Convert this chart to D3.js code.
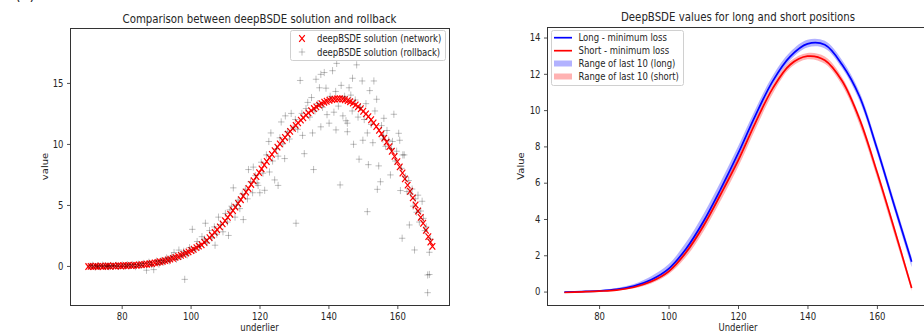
<!DOCTYPE html>
<html><head><meta charset="utf-8">
<script src="https://cdn.jsdelivr.net/npm/d3@7"></script>
<style>
body{margin:0;background:#fff;overflow:hidden}
text{font-family:"DejaVu Sans",sans-serif;fill:#262626}
</style>
</head><body>
<svg id="c" width="924" height="332"></svg>
<script>
// ---------- DATA ----------
const netX = [70.3,71.0,71.8,72.5,73.1,73.9,74.6,75.4,76.0,76.7,77.5,78.2,79.0,79.8,80.5,81.3,82.0,82.8,83.5,84.3,85.0,85.8,86.6,87.3,88.1,88.8,89.6,90.4,91.1,91.9,92.6,93.4,94.1,94.9,95.6,96.4,97.2,97.9,98.7,99.4,100.2,100.9,101.7,102.4,103.2,104.0,104.7,105.5,106.2,107.0,107.7,108.5,109.3,110.0,110.8,111.5,112.3,113.0,113.8,114.6,115.3,116.1,116.8,117.6,118.3,119.1,119.9,120.6,121.4,122.1,122.9,123.6,124.4,125.2,125.9,126.7,127.4,128.2,128.9,129.7,130.5,131.2,132.0,132.7,133.5,134.2,135.0,135.8,136.5,137.3,138.0,138.8,139.5,140.3,141.1,141.8,142.6,143.3,144.1,144.8,145.6,146.3,147.1,147.9,148.6,149.4,150.1,150.9,151.6,152.4,153.1,153.9,154.7,155.4,156.2,156.9,157.7,158.4,159.2,160.0,160.7,161.5,162.2,163.0,163.7,164.5,165.3,166.0,166.8,167.5,168.3,169.0,169.6,170.2];
const netY = [-0.05,-0.03,-0.06,-0.02,-0.04,-0.01,-0.04,-0.02,0.0,-0.03,0.01,-0.01,0.02,0.0,0.03,0.02,0.05,0.03,0.06,0.05,0.09,0.1,0.13,0.14,0.18,0.2,0.25,0.28,0.34,0.38,0.44,0.49,0.56,0.62,0.7,0.77,0.87,0.95,1.06,1.15,1.27,1.37,1.5,1.62,1.74,1.93,2.1,2.32,2.52,2.75,2.97,3.2,3.45,3.7,3.98,4.24,4.54,4.82,5.12,5.43,5.72,6.05,6.35,6.68,6.98,7.32,7.65,7.95,8.27,8.56,8.87,9.14,9.44,9.74,10.0,10.28,10.53,10.8,11.03,11.28,11.52,11.73,11.95,12.14,12.36,12.54,12.73,12.9,13.04,13.18,13.3,13.42,13.5,13.58,13.63,13.67,13.7,13.7,13.67,13.62,13.55,13.46,13.35,13.2,13.05,12.88,12.68,12.46,12.24,11.98,11.72,11.43,11.12,10.82,10.48,10.15,9.78,9.4,8.98,8.55,8.12,7.62,7.14,6.62,6.12,5.58,5.0,4.5,3.98,3.5,2.92,2.4,1.95,1.6];

const rollbackPoints = [
[70.8,-0.02],[71.5,0.05],[72.3,-0.08],[73.0,0.02],[73.6,-0.05],[74.4,0.06],[75.1,-0.03],[75.8,0.0],[76.3,-0.06],[76.9,0.04],[77.6,-0.02],[78.4,0.05],[79.1,-0.04],[80.2,0.08],[81.0,-0.03],[81.7,0.1],[82.4,0.02],[83.2,0.12],[84.0,-0.05],[84.8,0.15],[85.6,0.05],[86.3,0.2],[87.2,-0.35],[87.9,0.3],[88.6,0.1],[89.3,-0.3],[90.1,0.4],[90.8,0.15],[91.5,0.45],[92.2,0.3],[93.0,0.65],[93.8,0.4],[94.5,0.8],[95.2,1.1],[95.9,0.55],[96.6,1.3],[97.3,0.8],[98.0,1.2],[98.3,-1.1],[99.0,0.9],[99.7,1.5],
[100.5,3.0],[101.2,1.3],[101.9,2.0],[102.6,1.6],[103.3,2.4],[104.0,2.2],[104.3,3.5],[104.8,1.9],[105.5,2.9],[106.2,2.3],[106.9,3.2],[107.1,1.7],[107.6,2.6],[108.1,4.0],[108.7,3.4],[109.4,2.8],[110.1,4.3],[110.7,3.6],[111.0,2.5],[111.4,4.6],[111.9,4.9],[112.4,6.4],[112.9,4.0],[113.3,5.0],[113.8,5.4],[114.3,4.7],[115.0,5.9],[115.3,3.8],[115.9,6.3],[116.5,5.5],[116.8,7.9],[117.4,6.9],[118.0,6.0],[118.2,8.1],[118.8,7.4],[119.3,6.8],[119.6,6.6],[120.1,6.0],[120.5,8.5],[121.0,7.6],[121.5,6.2],[122.0,9.1],[122.7,10.2],[122.9,7.7],[123.3,10.9],[123.8,8.6],[124.4,7.05],[124.9,9.6],[125.4,9.0],[125.4,6.6],[125.9,10.5],[126.3,11.8],[126.8,10.0],[127.3,8.8],[127.5,12.3],[128.1,11.0],[128.7,10.4],[129.2,12.5],[129.8,11.3],[130.4,12.0],[130.6,3.5],[131.1,11.2],[131.8,15.2],[132.3,12.5],[132.5,10.7],[133.0,9.2],[133.5,12.9],[134.0,13.4],[134.6,12.2],[135.1,13.8],[135.4,10.9],[135.7,7.9],[136.1,12.7],[136.4,15.3],[136.9,13.3],[137.4,14.6],[137.8,15.7],[137.8,11.4],[138.3,13.0],[138.8,15.85],[139.3,14.57],[139.6,12.4],[140.2,11.7],[140.5,13.9],[141.2,16.0],[141.6,12.6],[142.1,14.3],[142.2,11.15],[142.4,16.6],[142.9,13.1],[143.4,6.64],[143.7,14.8],[144.2,12.3],[144.7,13.9],[145.1,11.9],[145.5,11.0],[145.5,11.7],[146.0,14.6],[146.5,14.0],[146.9,12.7],[147.0,15.38],[147.3,9.97],[147.8,13.6],[148.2,16.48],[148.6,12.2],[148.9,8.75],[149.3,13.0],[149.8,15.16],[150.0,10.3],[150.4,12.0],[150.9,13.3],[151.3,10.9],[151.3,4.45],[151.6,8.3],[152.0,14.37],[152.4,11.6],[152.9,10.1],[153.2,15.16],[153.5,12.7],[154.0,13.66],[154.2,6.28],[154.6,8.2],[155.1,6.9],[155.4,11.5],[155.8,10.4],[156.0,10.7],[156.1,12.1],[156.6,9.8],[157.0,11.1],[157.5,10.3],[158.0,7.46],[158.3,9.6],[158.6,10.2],[159.0,12.43],[159.4,8.6],[159.8,9.4],[160.4,10.87],[160.7,10.3],[160.9,6.18],[161.2,8.0],[161.4,2.27],[161.6,9.1],[162.0,9.1],[162.4,7.3],[162.8,6.1],[163.3,7.0],[163.5,3.36],[163.9,5.9],[164.3,6.3],[164.6,4.9],[165.0,1.31],[165.2,5.5],[165.6,4.4],[166.0,5.8],[166.4,3.6],[166.8,4.5],[167.2,5.3],[167.6,3.9],[168.0,2.9],[168.4,3.2],[168.8,-2.19],[168.8,-0.74],[169.3,-0.7],[169.3,1.12],[169.6,2.2]
];

const gridX      = [70,75,80,85,90,95,100,105,110,115,120,125,130,135,140,145,150,155,160,165,170];
const longMin    = [-0.03,0.0,0.04,0.12,0.3,0.65,1.25,2.35,3.85,5.65,7.6,9.7,11.6,12.95,13.65,13.6,12.5,10.75,7.9,4.75,1.65];
const longLow    = [-0.05,-0.02,0.01,0.07,0.22,0.52,1.05,2.05,3.5,5.3,7.3,9.45,11.4,12.75,13.45,13.4,12.3,10.5,7.65,4.5,1.35];
const longHigh   = [-0.01,0.03,0.08,0.2,0.42,0.85,1.5,2.7,4.25,6.05,8.0,10.05,11.9,13.2,13.88,13.82,12.75,11.0,8.15,5.0,1.9];
const shortMin   = [-0.05,-0.02,0.02,0.08,0.24,0.55,1.1,2.15,3.6,5.35,7.2,9.3,11.2,12.5,12.97,12.75,11.6,9.5,6.6,3.45,0.2];
const shortLow   = [-0.07,-0.04,0.0,0.05,0.18,0.45,0.95,1.9,3.3,5.0,6.85,8.95,10.9,12.3,12.8,12.55,11.35,9.2,6.3,3.15,0.05];
const shortHigh  = [-0.03,0.0,0.04,0.11,0.3,0.65,1.25,2.35,3.85,5.6,7.45,9.5,11.4,12.7,13.15,12.95,11.8,9.7,6.8,3.65,0.35];

const leftXTicks  = [80,100,120,140,160];
const leftYTicks  = [0,5,10,15];
const rightXTicks = [80,100,120,140,160];
const rightYTicks = [0,2,4,6,8,10,12,14];

const titles = ["Comparison between deepBSDE solution and rollback","DeepBSDE values for long and short positions"];
const legendLeft  = ["deepBSDE solution (network)","deepBSDE solution (rollback)"];
const legendRight = ["Long - minimum loss","Short - minimum loss","Range of last 10 (long)","Range of last 10 (short)"];

// ---------- DRAW ----------
const SX = 0.85; // horizontal squeeze of the original picture
const svg = d3.select("#c");

function label(x, y, s, size, anchor, rot) {
  return svg.append("text")
    .attr("transform", `translate(${x},${y})` + (rot ? " rotate(-90) scale(1," + SX + ")" : " scale(" + SX + ",1)"))
    .attr("text-anchor", anchor || "middle")
    .attr("font-size", size)
    .text(s);
}

function styleAxis(g, left) {
  g.select(".domain").remove();
  g.selectAll(".tick line").attr("stroke", "#262626").attr("stroke-width", 0.8);
  g.selectAll(".tick text").attr("font-size", 10).attr("fill", "#262626")
    .attr("font-family", '"DejaVu Sans",sans-serif');
  if (left) {
    g.selectAll(".tick text").attr("x", -7 / SX).attr("transform", `scale(${SX},1)`);
  } else {
    g.selectAll(".tick text").attr("transform", `scale(${SX},1)`);
  }
}

function frame(x0, y0, x1, y1) {
  svg.append("rect").attr("x", x0 + 0.5).attr("y", y0 + 0.5)
    .attr("width", x1 - x0).attr("height", y1 - y0)
    .attr("fill", "none").attr("stroke", "#333").attr("stroke-width", 1);
}

// ===== Left panel =====
const L = {x0: 70, x1: 449, y0: 28, y1: 305};
const xL = d3.scaleLinear().domain([65, 175]).range([L.x0, L.x1]);
const yL = d3.scaleLinear().domain([-3.2, 19.5]).range([L.y1, L.y0]);

svg.append("clipPath").attr("id", "clipL").append("rect")
  .attr("x", L.x0).attr("y", L.y0).attr("width", L.x1 - L.x0).attr("height", L.y1 - L.y0);

const xMark = "M-2.8,-3.3L2.8,3.3M-2.8,3.3L2.8,-3.3";
const plusMark = "M-3.2,0L3.2,0M0,-3.6L0,3.6";

const gL = svg.append("g").attr("clip-path", "url(#clipL)");
gL.selectAll("path.net").data(netX.map((x, i) => [x, netY[i]])).join("path")
  .attr("class", "net")
  .attr("transform", d => `translate(${xL(d[0])},${yL(d[1])})`)
  .attr("d", xMark).attr("stroke", "#ff0000").attr("stroke-width", 1.2).attr("fill", "none");
gL.selectAll("path.rb").data(rollbackPoints).join("path")
  .attr("class", "rb")
  .attr("transform", d => `translate(${xL(d[0])},${yL(d[1])})`)
  .attr("d", plusMark).attr("stroke", "#000").attr("stroke-opacity", 0.25)
  .attr("stroke-width", 1).attr("fill", "none");

const axLB = svg.append("g").attr("transform", `translate(0,${L.y1 + 0.5})`)
  .call(d3.axisBottom(xL).tickValues(leftXTicks).tickSize(3.5).tickPadding(3.5));
styleAxis(axLB, false);
const axLL = svg.append("g").attr("transform", `translate(${L.x0 + 0.5},0)`)
  .call(d3.axisLeft(yL).tickValues(leftYTicks).tickSize(3.5).tickPadding(3.5));
styleAxis(axLL, true);
frame(L.x0, L.y0, L.x1, L.y1);

label((L.x0 + L.x1) / 2, 23, titles[0], 12);
label((L.x0 + L.x1) / 2, 331, "underlier", 10);
label(48, (L.y0 + L.y1) / 2, "value", 10, "middle", true);

// left legend
svg.append("rect").attr("x", 290.5).attr("y", 30.5).attr("width", 155).attr("height", 30)
  .attr("rx", 2).attr("fill", "#fff").attr("fill-opacity", 0.8).attr("stroke", "#d0d0d0");
svg.append("path").attr("transform", "translate(302,38.5)").attr("d", xMark)
  .attr("stroke", "#ff0000").attr("stroke-width", 1.2).attr("fill", "none");
svg.append("path").attr("transform", "translate(302,52)").attr("d", plusMark)
  .attr("stroke", "#000").attr("stroke-opacity", 0.25).attr("fill", "none");
label(317, 42, legendLeft[0], 10, "start");
label(317, 55.5, legendLeft[1], 10, "start");

// ===== Right panel =====
const R = {x0: 547, x1: 929, y0: 27, y1: 305};
const xR = d3.scaleLinear().domain([65, 175]).range([R.x0, R.x1]);
const yR = d3.scaleLinear().domain([-0.74, 14.58]).range([R.y1, R.y0]);

svg.append("clipPath").attr("id", "clipR").append("rect")
  .attr("x", R.x0).attr("y", R.y0).attr("width", R.x1 - R.x0).attr("height", R.y1 - R.y0);
const gR = svg.append("g").attr("clip-path", "url(#clipR)");

const rows = gridX.map((x, i) => ({x, lm: longMin[i], ll: longLow[i], lh: longHigh[i], sm: shortMin[i], sl: shortLow[i], sh: shortHigh[i]}));
const curve = d3.curveCatmullRom.alpha(0.5);
const area = (lo, hi) => d3.area().x(d => xR(d.x)).y0(d => yR(d[lo])).y1(d => yR(d[hi])).curve(curve);
const line = key => d3.line().x(d => xR(d.x)).y(d => yR(d[key])).curve(curve);

gR.append("path").datum(rows).attr("d", area("ll", "lh")).attr("fill", "#0000ff").attr("fill-opacity", 0.3);
gR.append("path").datum(rows).attr("d", area("sl", "sh")).attr("fill", "#ff0000").attr("fill-opacity", 0.3);
gR.append("path").datum(rows).attr("d", line("lm")).attr("fill", "none").attr("stroke", "#0000ff").attr("stroke-width", 1.7);
gR.append("path").datum(rows).attr("d", line("sm")).attr("fill", "none").attr("stroke", "#ff0000").attr("stroke-width", 1.7);

const axRB = svg.append("g").attr("transform", `translate(0,${R.y1 + 0.5})`)
  .call(d3.axisBottom(xR).tickValues(rightXTicks).tickSize(3.5).tickPadding(3.5));
styleAxis(axRB, false);
const axRL = svg.append("g").attr("transform", `translate(${R.x0 + 0.5},0)`)
  .call(d3.axisLeft(yR).tickValues(rightYTicks).tickSize(3.5).tickPadding(3.5));
styleAxis(axRL, true);
frame(R.x0, R.y0, R.x1, R.y1);

label((R.x0 + R.x1) / 2, 21, titles[1], 12);
label((R.x0 + R.x1) / 2, 331, "Underlier", 10);
label(524, (R.y0 + R.y1) / 2, "Value", 10, "middle", true);

// right legend
svg.append("rect").attr("x", 551.5).attr("y", 30.5).attr("width", 132).attr("height", 55)
  .attr("rx", 2).attr("fill", "#fff").attr("fill-opacity", 0.8).attr("stroke", "#d0d0d0");
const legY = [37.7, 50.7, 63.5, 76.5];
svg.append("line").attr("x1", 554).attr("x2", 572).attr("y1", legY[0]).attr("y2", legY[0]).attr("stroke", "#0000ff").attr("stroke-width", 1.7);
svg.append("line").attr("x1", 554).attr("x2", 572).attr("y1", legY[1]).attr("y2", legY[1]).attr("stroke", "#ff0000").attr("stroke-width", 1.7);
svg.append("rect").attr("x", 554).attr("y", legY[2] - 3).attr("width", 18).attr("height", 6).attr("fill", "#0000ff").attr("fill-opacity", 0.3);
svg.append("rect").attr("x", 554).attr("y", legY[3] - 3).attr("width", 18).attr("height", 6).attr("fill", "#ff0000").attr("fill-opacity", 0.3);
legendRight.forEach((s, i) => label(578.5, legY[i] + 3.6, s, 10, "start"));

// cut-off panel tag at top left (only its lower edge shows, as in the source)
label(15, 0, "(a)", 17, "start");
</script>
</body></html>
